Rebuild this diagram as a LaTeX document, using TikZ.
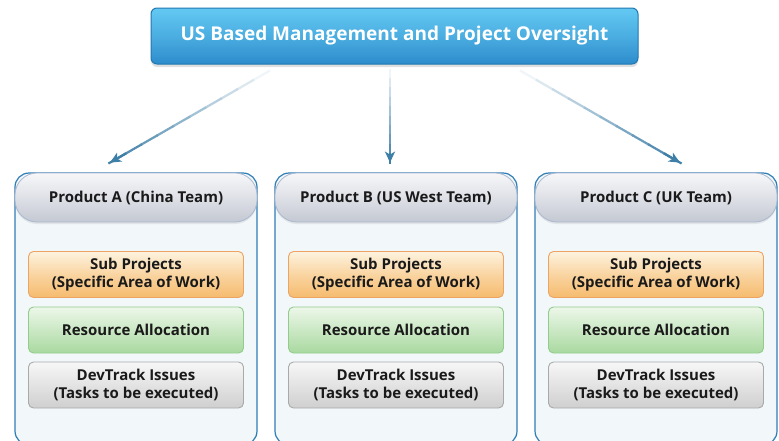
\documentclass[tikz,border=0pt]{standalone}
\usepackage{fontspec}
\setmainfont{Open Sans}
\usetikzlibrary{shadows,calc,arrows.meta}
\definecolor{topT}{HTML}{63C9F2}
\definecolor{topB}{HTML}{2D8CCC}
\definecolor{topD}{HTML}{2278B0}
\definecolor{arrowc}{HTML}{3E7FA8}
\definecolor{contD}{HTML}{2F7DB5}
\definecolor{contF}{HTML}{F2F7FA}
\definecolor{headT}{HTML}{F7F7F9}
\definecolor{headM}{HTML}{DEE1E7}
\definecolor{headB}{HTML}{C4C8D2}
\definecolor{headD}{HTML}{AAB8D0}
\definecolor{orT}{HTML}{FDF3DF}
\definecolor{orB}{HTML}{F6BB6E}
\definecolor{orD}{HTML}{EDA364}
\definecolor{grT}{HTML}{EDF7E9}
\definecolor{grB}{HTML}{A9D9A0}
\definecolor{grD}{HTML}{92CC8C}
\definecolor{gyT}{HTML}{F7F7F7}
\definecolor{gyB}{HTML}{CFCFCF}
\definecolor{gyD}{HTML}{A9A9A9}
\definecolor{txt}{HTML}{1A1A1A}
\begin{document}
\begin{tikzpicture}[x=1pt,y=-1pt,
  topbox/.style={draw=topD, line width=1pt, rounded corners=6pt, top color=topT, bottom color=topB, middle color=topT!55!topB,
    minimum width=487pt, minimum height=56pt, text=white, font=\fontsize{19}{22}\selectfont\bfseries,
    drop shadow={shadow yshift=-3pt, shadow xshift=0pt, opacity=.25}},
  container/.style={draw=contD, line width=1.2pt, fill=contF, rounded corners=14pt, minimum width=242pt, minimum height=272pt},
  header/.style={draw=headD, line width=0.8pt, rounded corners=22pt, top color=headT, bottom color=headB, middle color=headM,
    minimum width=242pt, minimum height=49pt, text=txt, font=\fontsize{15}{18}\selectfont\bfseries,
    drop shadow={shadow yshift=-2pt, shadow xshift=0pt, opacity=.15}},
  inner/.style={line width=0.9pt, rounded corners=5pt, minimum width=215pt, minimum height=46pt, text=txt,
    align=center, font=\fontsize{15}{18}\selectfont\bfseries, inner sep=1pt},
  subbox/.style={inner, draw=orD, top color=orT, bottom color=orB, middle color=orT!45!orB},
  resbox/.style={inner, draw=grD, top color=grT, bottom color=grB, middle color=grT!50!grB},
  devbox/.style={inner, draw=gyD, top color=gyT, bottom color=gyB, middle color=gyT!50!gyB},
]
\useasboundingbox (0,0) rectangle (779,440);
\fill[white] (0,0) rectangle (779,440);
\begin{scope}
\clip (0,0) rectangle (779,440);
\node[topbox] (top) at (394.5,36) {US Based Management and Project Oversight};

\foreach \x/\n/\lab in {15/A/Product A (China Team),275/B/Product B (US West Team),535/C/Product C (UK Team)}{
  \node[container] (cont\n) at (\x+121,309) {};
  \node[header] (head\n) at (\x+121,197.5) {\lab};
  \node[subbox] (sub\n) at (\x+121,274.5) {Sub Projects\\(Specific Area of Work)};
  \node[resbox] (res\n) at (\x+121,330) {Resource Allocation};
  \node[devbox] (dev\n) at (\x+121,385) {DevTrack Issues\\(Tasks to be executed)};
}
\end{scope}

\coordinate (sA) at ($(top.south)+(-124.5,6)$);
\coordinate (sB) at ($(top.south)+(-4.5,4)$);
\coordinate (sC) at ($(top.south)+(125.5,6)$);
\coordinate (eA) at ($(headA.north)+(-26,-10)$);
\coordinate (eB) at ($(headB.north)+(-6,-10)$);
\coordinate (eC) at ($(headC.north)+(24,-10)$);

\foreach \n in {A,B,C}{
  \foreach \i in {0,...,9}{
    \pgfmathtruncatemacro{\pct}{8+\i*10}
    \pgfmathsetmacro{\fa}{\i/10}
    \pgfmathsetmacro{\fb}{(\i+1)/10+0.01}
    \draw[arrowc!\pct!white, line width=2.2pt] ($(s\n)!\fa!(e\n)$) -- ($(s\n)!\fb!(e\n)$);
  }
  \draw[arrowc, line width=2.2pt, -{Stealth[length=11pt,width=10pt,inset=3pt]}] ($(s\n)!0.9!(e\n)$) -- (e\n);
}
\end{tikzpicture}
\end{document}
